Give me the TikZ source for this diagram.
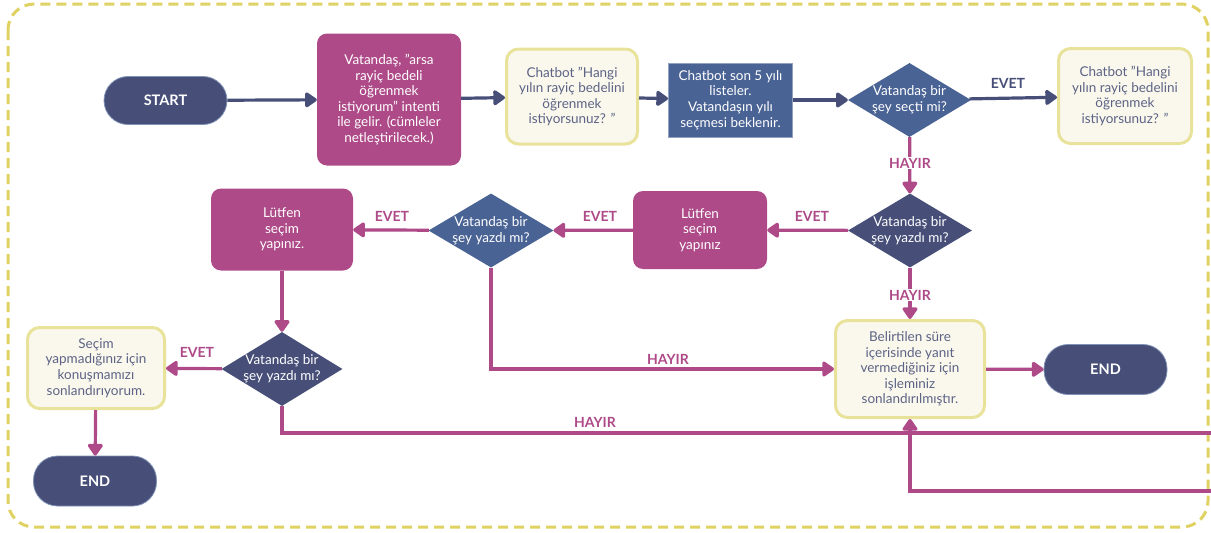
\documentclass[tikz,border=0pt]{standalone}
\usepackage{fontspec}
\setmainfont{Lato}
\usetikzlibrary{shapes.geometric,arrows.meta}
\definecolor{navy}{HTML}{474F79}
\definecolor{steel}{HTML}{4A6395}
\definecolor{plum}{HTML}{AE4A88}
\definecolor{cream}{HTML}{FAF8EC}
\definecolor{creamline}{HTML}{E9E29A}
\definecolor{frameyellow}{HTML}{E0D262}
\definecolor{greytext}{HTML}{5C6386}
\begin{document}
\begin{tikzpicture}[x=1pt,y=-1pt,
  every node/.style={font=\fontsize{13.5}{15.6}\selectfont, align=center, inner sep=0pt},
  terminal/.style={rectangle, rounded corners=24pt, fill=navy, text=white,
    font=\fontsize{14.5}{16}\selectfont\bfseries, draw=steel!70, line width=0.8pt},
  pinkbox/.style={rectangle, rounded corners=10pt, fill=plum, text=white},
  creambox/.style={rectangle, rounded corners=12pt, fill=cream, draw=creamline,
    line width=3pt, text=greytext},
  bluebox/.style={rectangle, fill=steel, text=white, draw=steel!60!white, line width=1pt},
  dia/.style={diamond, minimum width=#1, minimum height=74pt},
  dtext/.style={text=white},
  lbl/.style={font=\fontsize{14}{15}\selectfont\bfseries, text=plum, fill=white, inner sep=1pt},
  navylbl/.style={lbl, text=navy},
  flow/.style={line width=3.2pt, -{Triangle[length=13pt,width=17pt,round]}},
  navyflow/.style={flow, draw=navy},
  plumflow/.style={flow, draw=plum}
]
\useasboundingbox (0,0) rectangle (1211,533);

% dashed outer frame
\draw[frameyellow, line width=3pt, dash pattern=on 10pt off 6pt, rounded corners=26pt]
  (8,4) rectangle (1208,527);

% top row
\node[terminal, minimum width=123pt, minimum height=48pt] (start) at (165.5,100.5) {START};
\node[pinkbox, minimum width=144pt, minimum height=132pt] (intent) at (389,99.5)
  {Vatandaş, "arsa\\rayiç bedeli\\öğrenmek\\istiyorum" intenti\\ile gelir. (cümleler\\netleştirilecek.)};
\node[creambox, minimum width=131pt, minimum height=95pt] (ask1) at (572,96.5)
  {Chatbot "Hangi\\yılın rayiç bedelini\\öğrenmek\\istiyorsunuz? "};
\node[bluebox, minimum width=124pt, minimum height=74pt] (list) at (730.5,100)
  {Chatbot son 5 yılı\\listeler.\\Vatandaşın yılı\\seçmesi beklenir.};
\node[dia=123pt, fill=steel] (chose) at (909.5,100) {};
\node[dtext] at (chose) {Vatandaş bir\\şey seçti mi?};
\node[creambox, minimum width=133pt, minimum height=95pt] (ask2) at (1125,96)
  {Chatbot "Hangi\\yılın rayiç bedelini\\öğrenmek\\istiyorsunuz? "};

% middle row
\node[dia=124pt, fill=navy] (wrote1) at (910,230.5) {};
\node[dtext] at (wrote1) {Vatandaş bir\\şey yazdı mı?};
\node[pinkbox, minimum width=134pt, minimum height=78pt] (please1) at (700,230)
  {Lütfen\\seçim\\yapınız};
\node[dia=125pt, fill=steel] (wrote2) at (491,230.5) {};
\node[dtext] at (wrote2) {Vatandaş bir\\şey yazdı mı?};
\node[pinkbox, minimum width=142pt, minimum height=82pt] (please2) at (282,229.5)
  {Lütfen\\seçim\\yapınız.};

% bottom rows
\node[dia=121pt, fill=navy] (wrote3) at (282,369) {};
\node[dtext] at (wrote3) {Vatandaş bir\\şey yazdı mı?};
\node[creambox, minimum width=137pt, minimum height=81pt] (bye) at (96,368)
  {Seçim\\yapmadığınız için\\konuşmamızı\\sonlandırıyorum.};
\node[terminal, minimum width=123pt, minimum height=50pt] (end1) at (95,481) {END};
\node[creambox, minimum width=149pt, minimum height=97pt] (timeout) at (910,369)
  {Belirtilen süre\\içerisinde yanıt\\vermediğiniz için\\işleminiz\\sonlandırılmıştır.};
\node[terminal, minimum width=123pt, minimum height=50pt] (end2) at (1105.5,369.5) {END};

% loop-back coordinates beyond the right edge
\coordinate (r1) at (1240,433);
\coordinate (r2) at (1240,491);

% connectors
\draw[navyflow] (start) -- (intent);
\draw[navyflow] (intent) -- (ask1);
\draw[navyflow] (ask1) -- (list);
\draw[navyflow] (list) -- (chose);
\draw[navyflow] (chose) -- (ask2);
\draw[plumflow] (chose) -- (wrote1);
\draw[plumflow] (wrote1) -- (please1);
\draw[plumflow] (please1) -- (wrote2);
\draw[plumflow] (wrote2) -- (please2);
\draw[plumflow] (please2) -- (wrote3);
\draw[plumflow] (wrote3) -- (bye);
\draw[plumflow] (bye) -- (end1);
\draw[plumflow] (wrote1) -- (timeout);
\draw[plumflow] (timeout) -- (end2);
\draw[plumflow] (wrote2.south) |- (timeout.west);
\draw[plumflow] (wrote3.south) |- (r1) -- (r2) -| (timeout.south);

% branch labels
\node[navylbl] at (1008,83) {EVET};
\node[lbl] at (910,163) {HAYIR};
\node[lbl] at (812,216) {EVET};
\node[lbl] at (600,216) {EVET};
\node[lbl] at (392,216) {EVET};
\node[lbl] at (910,295) {HAYIR};
\node[lbl] at (197,352) {EVET};
\node[lbl, fill=none] at (668,359) {HAYIR};
\node[lbl, fill=none] at (595,422) {HAYIR};
\end{tikzpicture}
\end{document}
